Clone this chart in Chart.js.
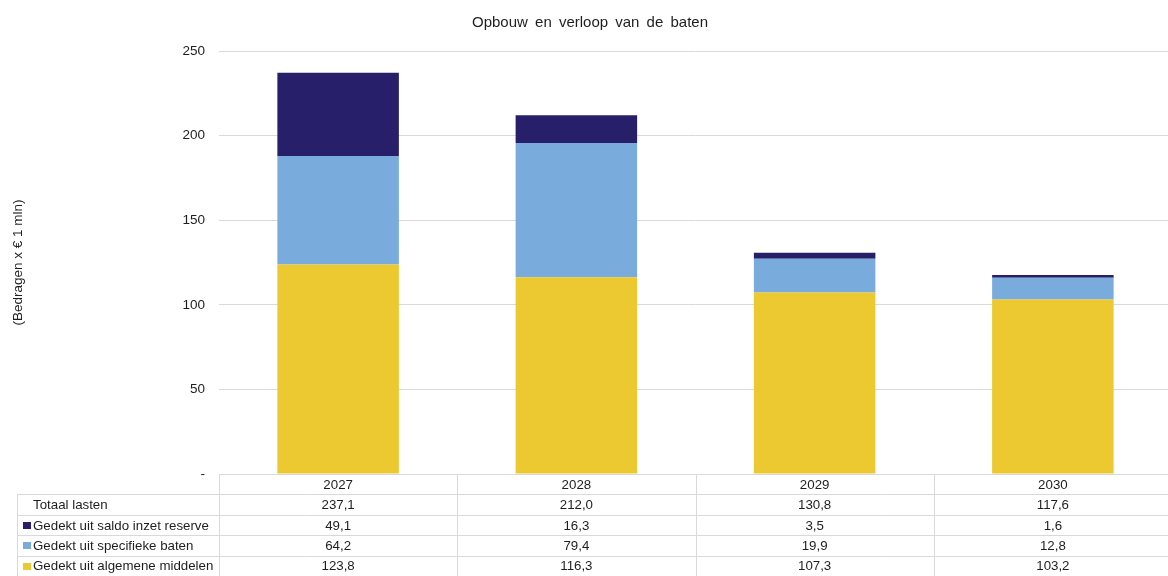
<!DOCTYPE html>
<html>
<head>
<meta charset="utf-8">
<script src="https://cdn.jsdelivr.net/npm/chart.js@4"></script>
<style>
  html, body { margin: 0; padding: 0; background: #fff; overflow: hidden; }
  canvas { display: block; }
</style>
</head>
<body>
<canvas id="batenChart" width="1172" height="576"></canvas>
<script>
// jaren en reeksen
const years = ['2027', '2028', '2029', '2030'];
const algemeneMiddelen = [123.8, 116.3, 107.3, 103.2];
const specifiekeBaten = [64.2, 79.4, 19.9, 12.8];
const inzetReserve = [49.1, 16.3, 3.5, 1.6];
const totaalLasten = [237.1, 212.0, 130.8, 117.6];
const yTicks = [0, 50, 100, 150, 200, 250];
const chartTitle = 'Opbouw en verloop van de baten';

const FONT = '"Liberation Sans", Arial, sans-serif';
const GRID = '#d9d9d9';
const TEXT = '#1e1e1e';

function nl(v) {
    return v.toFixed(1).replace('.', ',');
}

// titel met wat ruimere woordafstand
const titlePlugin = {
    id: 'spacedTitle',
    afterDraw(chart) {
        const ctx = chart.ctx;
        ctx.save();
        ctx.font = '15px ' + FONT;
        ctx.wordSpacing = '3px';
        ctx.fillStyle = TEXT;
        ctx.textAlign = 'center';
        ctx.textBaseline = 'middle';
        ctx.fillText(chartTitle, 590, 23);
        ctx.restore();
    }
};

// tabel onder de grafiek, kolommen volgen de x-schaal
const tablePlugin = {
    id: 'dataTable',
    afterDraw(chart) {
        const ctx = chart.ctx;
        const x = chart.scales.x;
        const area = chart.chartArea;
        const top = area.bottom;
        const rowH = 20.4;
        const colW = (area.right - area.left) / years.length;
        const leftEdge = 17;
        const rows = [
            { label: 'Totaal lasten', values: totaalLasten, color: null },
            { label: 'Gedekt uit saldo inzet reserve', values: inzetReserve, color: chart.data.datasets[2].backgroundColor },
            { label: 'Gedekt uit specifieke baten', values: specifiekeBaten, color: chart.data.datasets[1].backgroundColor },
            { label: 'Gedekt uit algemene middelen', values: algemeneMiddelen, color: chart.data.datasets[0].backgroundColor }
        ];

        ctx.save();
        ctx.strokeStyle = GRID;
        ctx.lineWidth = 1;
        ctx.beginPath();
        // horizontale lijnen
        ctx.moveTo(area.left, top + 0.5);
        ctx.lineTo(area.right, top + 0.5);
        for (let r = 1; r <= rows.length + 1; r++) {
            const y = Math.round(top + r * rowH) + 0.5;
            ctx.moveTo(leftEdge, y);
            ctx.lineTo(area.right, y);
        }
        // verticale lijnen
        ctx.moveTo(leftEdge + 0.5, top + rowH);
        ctx.lineTo(leftEdge + 0.5, chart.height);
        for (let c = 0; c <= years.length; c++) {
            const xx = Math.round(area.left + c * colW) + 0.5;
            ctx.moveTo(xx, top);
            ctx.lineTo(xx, chart.height);
        }
        ctx.stroke();

        ctx.font = '13.3px ' + FONT;
        ctx.fillStyle = TEXT;
        ctx.textBaseline = 'middle';
        ctx.textAlign = 'center';
        years.forEach((yr, i) => {
            ctx.fillText(yr, x.getPixelForValue(i), top + rowH / 2 + 1);
        });
        rows.forEach((row, r) => {
            const cy = top + (r + 1.5) * rowH + 1;
            ctx.textAlign = 'left';
            if (row.color) {
                ctx.fillStyle = row.color;
                ctx.fillRect(23, Math.round(cy) - 4, 8, 7);
            }
            ctx.fillStyle = TEXT;
            ctx.fillText(row.label, 33, cy);
            ctx.textAlign = 'center';
            row.values.forEach((v, i) => {
                ctx.fillText(nl(v), x.getPixelForValue(i), cy);
            });
        });
        ctx.restore();
    }
};

new Chart(document.getElementById('batenChart'), {
    type: 'bar',
    data: {
        labels: years,
        datasets: [
            { label: 'Gedekt uit algemene middelen', data: algemeneMiddelen, backgroundColor: '#ecc930' },
            { label: 'Gedekt uit specifieke baten', data: specifiekeBaten, backgroundColor: '#7aabdd' },
            { label: 'Gedekt uit saldo inzet reserve', data: inzetReserve, backgroundColor: '#271f6a' }
        ]
    },
    options: {
        responsive: false,
        animation: false,
        layout: { padding: { left: 0, right: 0, top: 51, bottom: 102 } },
        datasets: {
            bar: { categoryPercentage: 1, barPercentage: 0.51, borderWidth: 0 }
        },
        plugins: {
            legend: { display: false },
            tooltip: { enabled: false },
            title: { display: false }
        },
        scales: {
            x: {
                display: false,
                stacked: true
            },
            y: {
                stacked: true,
                min: 0,
                max: 250,
                afterBuildTicks(scale) {
                    scale.ticks = yTicks.map(v => ({ value: v }));
                },
                afterFit(scale) {
                    scale.width = 219;
                },
                border: { display: false },
                grid: { color: GRID, drawTicks: false },
                ticks: {
                    padding: 14,
                    color: TEXT,
                    font: { family: FONT, size: 13.5 },
                    callback: v => v === 0 ? '-' : v
                },
                title: {
                    display: true,
                    text: '(Bedragen x € 1 mln)',
                    color: TEXT,
                    font: { family: FONT, size: 13.5 },
                    padding: { top: 10, bottom: 0 }
                }
            }
        }
    },
    plugins: [tablePlugin, titlePlugin]
});
</script>
</body>
</html>
